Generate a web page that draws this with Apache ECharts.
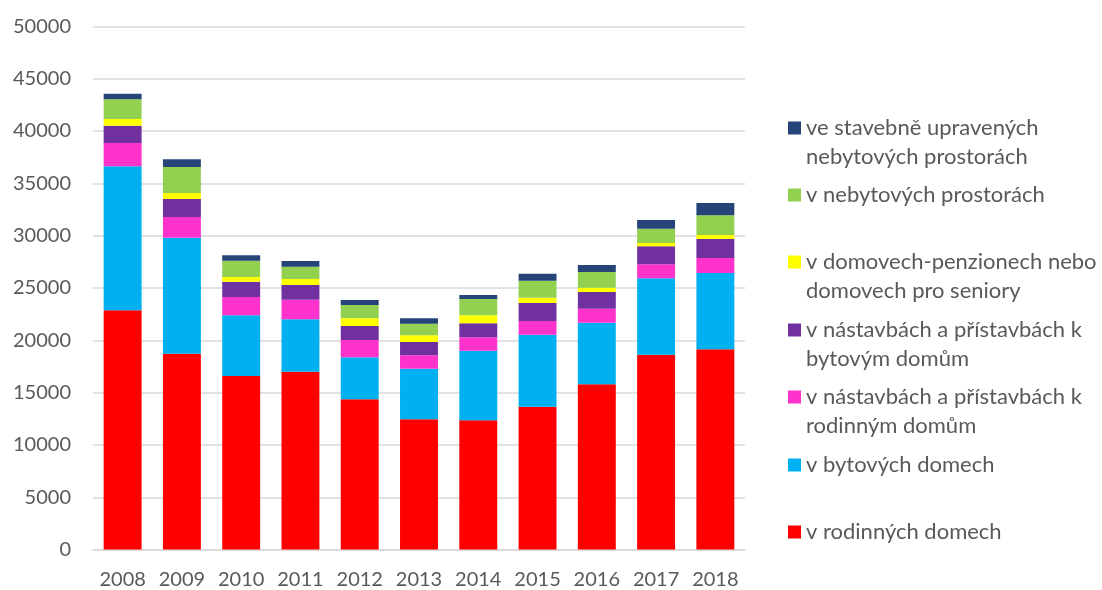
<!DOCTYPE html>
<html>
<head>
<meta charset="utf-8">
<script src="https://cdn.jsdelivr.net/npm/echarts@6/dist/echarts.min.js"></script>
<style>
  html, body { margin: 0; padding: 0; background: #fff; }
  #main { width: 1102px; height: 590px; }
</style>
</head>
<body>
<div id="main"></div>
<script>
// roky
var years = ['2008', '2009', '2010', '2011', '2012', '2013', '2014', '2015', '2016', '2017', '2018'];

// zahajene byty podle typu stavby
var rodinneDomy    = [22860, 18720, 16590, 17000, 14360, 12450, 12350, 13660, 15790, 18620, 19140];
var bytoveDomy     = [13760, 11080,  5800,  5000,  4010,  4840,  6660,  6880,  5890,  7300,  7290];
var nastavbyRD     = [ 2230,  1980,  1750,  1880,  1660,  1280,  1280,  1300,  1340,  1340,  1430];
var nastavbyBD     = [ 1650,  1720,  1460,  1400,  1340,  1270,  1330,  1720,  1590,  1720,  1820];
var domovySeniory  = [  640,   570,   450,   580,   730,   640,   770,   510,   420,   320,   380];
var nebytove       = [ 1880,  2490,  1550,  1170,  1270,  1110,  1550,  1620,  1490,  1360,  1880];
var upraveneNebyt  = [  530,   730,   520,   550,   480,   510,   390,   670,   670,   830,  1180];

var yTicks = { min: 0, max: 50000, interval: 5000 };

var series = [
    { name: 'v rodinných domech', data: rodinneDomy, color: '#ff0000' },
    { name: 'v bytových domech', data: bytoveDomy, color: '#00b0f0' },
    { name: 'v nástavbách a přístavbách k\nrodinným domům', data: nastavbyRD, color: '#ff33cc' },
    { name: 'v nástavbách a přístavbách k\nbytovým domům', data: nastavbyBD, color: '#7030a0' },
    { name: 'v domovech-penzionech nebo\ndomovech pro seniory', data: domovySeniory, color: '#ffff00' },
    { name: 'v nebytových prostorách', data: nebytove, color: '#92d050' },
    { name: 've stavebně upravených\nnebytových prostorách', data: upraveneNebyt, color: '#264478' }
];

// stredy ikon legendy (odshora), poradi: od posledni serie k prvni
var legendCenters = [128, 195, 262, 330, 397, 465, 532];
var LH = 29;

var font = 'Lato, "Open Sans", sans-serif';
var legends = [];
for (var i = 0; i < series.length; i++) {
    var s = series[series.length - 1 - i];
    var twoLines = s.name.indexOf('\n') >= 0;
    legends.push({
        data: [s.name],
        left: 788,
        top: twoLines ? legendCenters[i] - LH * 1.5 : legendCenters[i] - LH / 2,
        orient: 'vertical',
        padding: 0,
        itemWidth: 13,
        itemHeight: 13,
        itemGap: 0,
        selectedMode: false,
        icon: 'rect',
        // prazdny radek navrch, aby ikona sedela u prvniho radku
        formatter: twoLines ? function (n) { return ' \n' + n; } : '{name}',
        textStyle: {
            fontFamily: font,
            fontSize: 22,
            color: '#595959',
            lineHeight: LH
        }
    });
}

var chart = echarts.init(document.getElementById('main'));
chart.setOption({
    animation: false,
    backgroundColor: '#fff',
    grid: { left: 93, right: 357, top: 26.3, bottom: 40.4, containLabel: false },
    legend: legends,
    xAxis: {
        type: 'category',
        data: years,
        axisLine: { show: true, lineStyle: { color: '#d9d9d9', width: 1.5 } },
        axisTick: { show: false },
        axisLabel: { color: '#595959', fontFamily: font, fontSize: 20, margin: 20, interval: 0 }
    },
    yAxis: {
        type: 'value',
        min: yTicks.min,
        max: yTicks.max,
        interval: yTicks.interval,
        axisLine: { show: false },
        axisTick: { show: false },
        axisLabel: {
            color: '#595959', fontFamily: font, fontSize: 20, margin: 22,
            formatter: function (v) { return String(v); }
        },
        splitLine: { lineStyle: { color: '#d9d9d9', width: 1.5 } }
    },
    series: series.map(function (s) {
        return {
            name: s.name,
            type: 'bar',
            stack: 'byty',
            data: s.data,
            barCategoryGap: '36%',
            itemStyle: { color: s.color },
            emphasis: { disabled: true }
        };
    })
});
</script>
</body>
</html>
